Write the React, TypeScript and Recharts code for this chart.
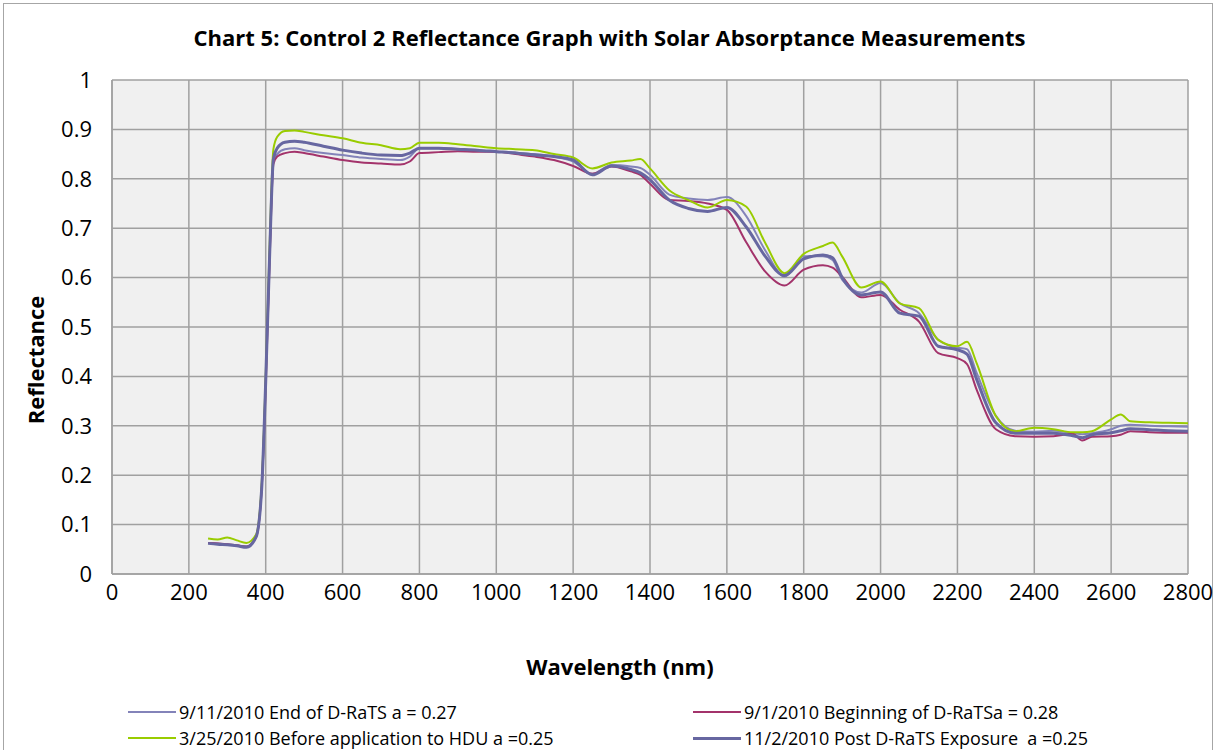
import { CartesianGrid, Line, LineChart, XAxis, YAxis } from 'recharts';

// wavelength (nm)
const wavelengths = [
  250, 275, 300, 325, 350, 375, 390, 400, 410, 420, 430, 450, 475, 500, 550, 600, 650, 700, 750, 775,
  800, 850, 900, 950, 1000, 1050, 1100, 1150, 1200, 1250, 1300, 1350, 1375, 1400, 1450, 1500, 1550, 1600,
  1650, 1700, 1750, 1800, 1850, 1875, 1900, 1950, 2000, 2050, 2100, 2150, 2200, 2225, 2250, 2300, 2350,
  2400, 2450, 2500, 2525, 2550, 2600, 2625, 2650, 2700, 2750, 2800,
];

// 9/11/2010 End of D-RaTS
const endDrats = [
  0.063, 0.062, 0.060, 0.058, 0.056, 0.076, 0.18, 0.39, 0.64, 0.835, 0.85, 0.860, 0.862, 0.858, 0.852, 0.848, 0.843, 0.840, 0.838, 0.845,
  0.862, 0.862, 0.860, 0.858, 0.855, 0.853, 0.850, 0.845, 0.835, 0.810, 0.828, 0.825, 0.822, 0.808, 0.768, 0.760, 0.757, 0.763,
  0.725, 0.655, 0.602, 0.643, 0.643, 0.636, 0.596, 0.570, 0.589, 0.548, 0.528, 0.474, 0.458, 0.455, 0.407, 0.320, 0.290,
  0.288, 0.290, 0.285, 0.283, 0.285, 0.293, 0.300, 0.302, 0.300, 0.299, 0.298,
];

// 9/1/2010 Beginning of D-RaTS
const beginDrats = [
  0.063, 0.062, 0.060, 0.058, 0.055, 0.075, 0.18, 0.38, 0.63, 0.83, 0.845, 0.852, 0.855, 0.852, 0.845, 0.838, 0.833, 0.831, 0.829, 0.835,
  0.852, 0.854, 0.856, 0.855, 0.855, 0.850, 0.845, 0.838, 0.826, 0.810, 0.825, 0.815, 0.808, 0.790, 0.757, 0.755, 0.750, 0.737,
  0.672, 0.612, 0.584, 0.616, 0.625, 0.620, 0.602, 0.560, 0.565, 0.535, 0.511, 0.447, 0.437, 0.425, 0.373, 0.293, 0.279,
  0.278, 0.279, 0.284, 0.270, 0.278, 0.279, 0.282, 0.289, 0.287, 0.286, 0.286,
];

// 3/25/2010 Before application to HDU
const beforeHdu = [
  0.072, 0.070, 0.074, 0.068, 0.063, 0.080, 0.19, 0.40, 0.66, 0.86, 0.885, 0.897, 0.898, 0.895, 0.888, 0.882, 0.873, 0.868, 0.860, 0.862,
  0.873, 0.873, 0.870, 0.866, 0.862, 0.860, 0.858, 0.850, 0.843, 0.821, 0.833, 0.837, 0.840, 0.821, 0.777, 0.757, 0.742, 0.757,
  0.744, 0.670, 0.609, 0.648, 0.664, 0.671, 0.643, 0.580, 0.592, 0.548, 0.538, 0.474, 0.461, 0.470, 0.427, 0.320, 0.289,
  0.296, 0.293, 0.287, 0.287, 0.289, 0.313, 0.323, 0.309, 0.307, 0.306, 0.305,
];

// 11/2/2010 Post D-RaTS Exposure
const postDrats = [
  0.062, 0.060, 0.059, 0.057, 0.054, 0.075, 0.18, 0.39, 0.64, 0.84, 0.862, 0.874, 0.876, 0.874, 0.866, 0.858, 0.852, 0.848, 0.847, 0.852,
  0.862, 0.862, 0.860, 0.858, 0.855, 0.852, 0.848, 0.845, 0.838, 0.808, 0.826, 0.819, 0.812, 0.798, 0.757, 0.740, 0.734, 0.742,
  0.703, 0.643, 0.604, 0.638, 0.646, 0.640, 0.600, 0.565, 0.571, 0.528, 0.522, 0.461, 0.454, 0.445, 0.394, 0.306, 0.285,
  0.285, 0.285, 0.280, 0.276, 0.282, 0.286, 0.290, 0.294, 0.292, 0.290, 0.289,
];

const xTicks = [0, 200, 400, 600, 800, 1000, 1200, 1400, 1600, 1800, 2000, 2200, 2400, 2600, 2800];
const yTicks = [0, 0.1, 0.2, 0.3, 0.4, 0.5, 0.6, 0.7, 0.8, 0.9, 1];

const series = [
  { key: 'end', name: '9/11/2010 End of D-RaTS a = 0.27', color: '#8383b9', width: 2 },
  { key: 'begin', name: '9/1/2010 Beginning of D-RaTSa = 0.28', color: '#a3336b', width: 2 },
  { key: 'before', name: '3/25/2010 Before application to HDU a =0.25', color: '#99cc00', width: 2 },
  { key: 'post', name: '11/2/2010 Post D-RaTS Exposure  a =0.25', color: '#6767a1', width: 3 },
];

const data = wavelengths.map((wl, i) => ({
  wl,
  end: endDrats[i],
  begin: beginDrats[i],
  before: beforeHdu[i],
  post: postDrats[i],
}));

const FONT = '"Open Sans", sans-serif';

const LegendBox = () => (
  <div style={{ position: 'absolute', left: 0, top: 700, width: 1219, height: 50, fontFamily: FONT, fontSize: 18 }}>
    {series.map((s, i) => {
      const col = i % 2;
      const row = Math.floor(i / 2);
      return (
        <div
          key={s.key}
          style={{
            position: 'absolute',
            left: col === 0 ? 128 : 693,
            top: row * 26,
            display: 'flex',
            alignItems: 'center',
            whiteSpace: 'pre',
            color: '#000',
            lineHeight: '24px',
          }}
        >
          <span style={{ display: 'inline-block', width: 48, height: s.width, background: s.color, marginRight: 3 }} />
          {s.name}
        </div>
      );
    })}
  </div>
);

export default function App() {
  return (
    <div style={{ position: 'absolute', left: 0, top: 0, width: 1219, height: 750, background: '#fff', overflow: 'hidden' }}>
      <div
        style={{
          position: 'absolute', left: 3, top: 3, width: 1210, height: 760,
          border: '1px solid #a6a6a6', boxSizing: 'border-box',
        }}
      />
      <LineChart
        width={1219}
        height={750}
        data={data}
        margin={{ top: 80, right: 31, left: 40, bottom: 136 }}
        style={{ position: 'absolute', left: 0, top: 0 }}
      >
        <CartesianGrid fill="#f0f0f0" stroke="#a0a0a0" strokeWidth={1.5} />
        <XAxis
          dataKey="wl"
          type="number"
          domain={[0, 2800]}
          ticks={xTicks}
          interval={0}
          tickLine={false}
          axisLine={{ stroke: '#a0a0a0', strokeWidth: 1.5 }}
          tick={{ fill: '#000', fontSize: 22, fontFamily: FONT }}
          tickMargin={4}
          height={40}
        />
        <YAxis
          type="number"
          domain={[0, 1]}
          ticks={yTicks}
          interval={0}
          tickLine={false}
          axisLine={{ stroke: '#a0a0a0', strokeWidth: 1.5 }}
          tick={{ fill: '#000', fontSize: 22, fontFamily: FONT }}
          tickFormatter={(v: number) => String(Math.round(v * 10) / 10)}
          tickMargin={14}
          width={72}
        />
        {series.map((s) => (
          <Line
            key={s.key}
            dataKey={s.key}
            name={s.name}
            type="monotone"
            stroke={s.color}
            strokeWidth={s.width}
            dot={false}
            activeDot={false}
            isAnimationActive={false}
          />
        ))}
      </LineChart>
      <div
        style={{
          position: 'absolute', left: 0, top: 22, width: 1219, textAlign: 'center',
          fontFamily: FONT, fontWeight: 'bold', fontSize: 22,
        }}
      >
        Chart 5: Control 2 Reflectance Graph with Solar Absorptance Measurements
      </div>
      <div
        style={{
          position: 'absolute', left: 620 - 150, top: 651, width: 300, textAlign: 'center',
          fontFamily: FONT, fontWeight: 'bold', fontSize: 22,
        }}
      >
        Wavelength (nm)
      </div>
      <div
        style={{
          position: 'absolute', left: 35 - 100, top: 360 - 15, width: 200, textAlign: 'center',
          fontFamily: FONT, fontWeight: 'bold', fontSize: 22, transform: 'rotate(-90deg)',
        }}
      >
        Reflectance
      </div>
      <LegendBox />
    </div>
  );
}
